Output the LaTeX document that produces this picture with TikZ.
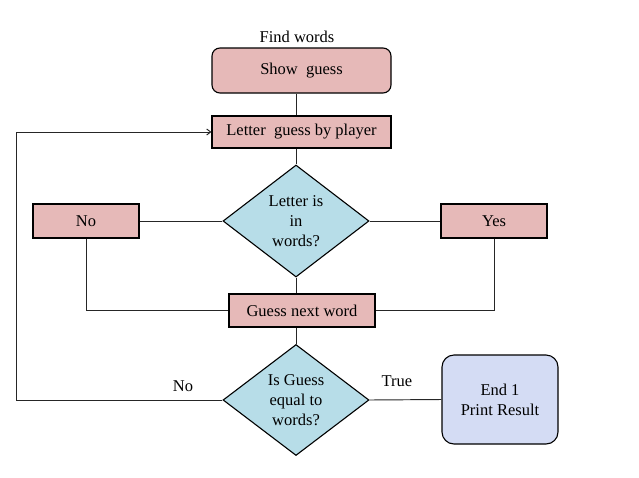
\documentclass[tikz,border=0pt]{standalone}
\usepackage{fontspec}
\setmainfont{Liberation Serif}
\usetikzlibrary{shapes.geometric,arrows.meta}
\definecolor{boxpink}{RGB}{230,185,184}
\definecolor{diablue}{RGB}{183,221,232}
\definecolor{endblue}{RGB}{212,220,244}
\tikzset{
  every node/.style={font=\fontsize{16.5}{20}\selectfont, text=black},
  pinkbox/.style={draw=black, line width=1.1pt, fill=boxpink, rectangle, inner sep=0pt},
  decision/.style={draw=black, line width=1.1pt, fill=diablue, diamond, aspect=1.3, inner sep=0pt, align=center},
  endbox/.style={draw=black, line width=1.1pt, fill=endblue, rectangle, rounded corners=12pt, inner sep=0pt, align=center},
  plainlabel/.style={inner sep=0pt},
  conn/.style={draw=black!85, line width=0.95pt},
}
\begin{document}
\begin{tikzpicture}[x=1pt,y=-1pt]
\useasboundingbox (0,0) rectangle (639,477);
\node[plainlabel] (fw) at (297,37) {Find words};
\node[pinkbox, rounded corners=8pt, minimum width=179pt, minimum height=45pt] (sg) at (301.5,70.5) {Show\ \ guess};
\node[pinkbox, minimum width=179pt, minimum height=32pt] (lg) at (301.5,132) {Letter\ \ guess by player};
\node[decision, minimum width=146pt, minimum height=112pt] (d1) at (296,221) {Letter is\\in\\words?};
\node[pinkbox, minimum width=106pt, minimum height=34pt] (no) at (86,221) {No};
\node[pinkbox, minimum width=106pt, minimum height=34pt] (yes) at (494,221) {Yes};
\node[pinkbox, minimum width=146pt, minimum height=33pt] (gn) at (302,310.5) {Guess next word};
\node[decision, minimum width=146pt, minimum height=111pt] (d2) at (296,400) {Is Guess\\equal to\\words?};
\node[endbox, minimum width=116pt, minimum height=89pt] (end) at (500,399.5) {End 1\\Print Result};
\node[plainlabel] (lno) at (183,386) {No};
\node[plainlabel] (ltrue) at (397,381) {True};
\coordinate (loop) at (16,400);
% connectors
\draw[conn] (sg.south -| d1.north) -- (lg.north -| d1.north);
\draw[conn] (lg.south -| d1.north) -- (d1.north);
\draw[conn] (d1.west) -- (no.east);
\draw[conn] (d1.east) -- (yes.west);
\draw[conn] (no.south) |- (gn.west);
\draw[conn] (yes.south) |- (gn.east);
\draw[conn] (d1.south) -- (gn.north -| d1.south);
\draw[conn] (gn.south -| d2.north) -- (d2.north);
\draw[conn] (d2.east) -- (end.west);
\draw[conn, -{Straight Barb[length=4pt,width=6pt]}] (d2.west) -- (loop) |- (lg.west);
\end{tikzpicture}
\end{document}
